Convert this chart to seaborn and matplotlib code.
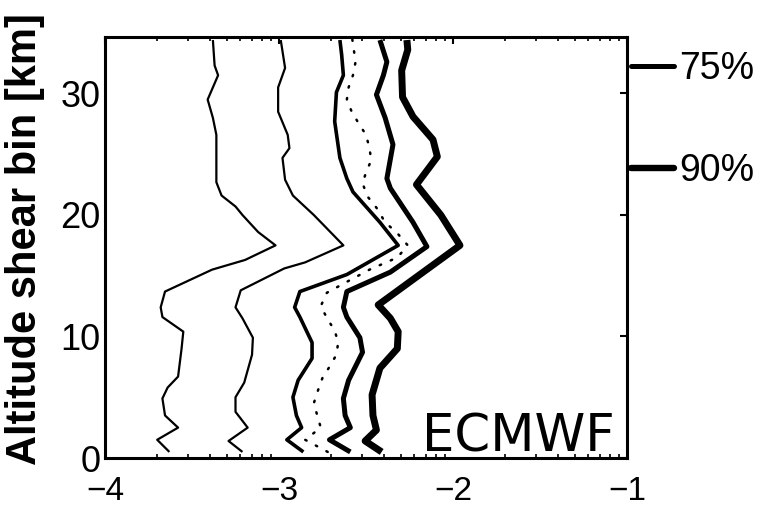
import matplotlib
matplotlib.use("Agg")
import matplotlib.pyplot as plt
import seaborn as sns
import numpy as np
import pandas as pd
from matplotlib.lines import Line2D
from matplotlib.ticker import FixedLocator

# ---- data (log10 values vs altitude bin) ----
alt1 = [0.5,1.5,2.5,3.5,4.9,5.8,6.7,9.0,10.4,11.6,12.4,13.7,15.5,16.3,17.5,18.6,20.0,20.7,21.6,22.7,26.6,28.0,29.5,31.5,32.3,34.4]
val1 = [-3.63,-3.70,-3.58,-3.655,-3.67,-3.64,-3.58,-3.56,-3.55,-3.67,-3.68,-3.655,-3.385,-3.195,-3.02,-3.12,-3.21,-3.25,-3.33,-3.36,-3.36,-3.38,-3.41,-3.35,-3.37,-3.38]

alt2 = [0.5,1.4,2.5,3.8,5.0,6.2,8.5,9.9,11.5,12.4,13.8,15.6,16.1,17.5,20.0,21.6,22.9,24.7,25.5,26.6,28.5,30.5,32.1,34.4]
val2 = [-3.21,-3.29,-3.18,-3.25,-3.25,-3.20,-3.155,-3.15,-3.21,-3.25,-3.22,-2.97,-2.85,-2.63,-2.80,-2.92,-2.965,-2.98,-2.94,-2.95,-3.005,-3.005,-2.965,-2.99]

alt3 = [0.5,1.5,2.5,3.5,5.0,6.4,8.2,9.5,11.6,12.4,13.7,15.1,17.5,19.4,21.9,23.0,24.7,27.7,30.1,31.5,33.2,34.4]
val3 = [-2.86,-2.955,-2.87,-2.90,-2.92,-2.89,-2.81,-2.81,-2.88,-2.91,-2.88,-2.61,-2.315,-2.42,-2.575,-2.61,-2.65,-2.68,-2.67,-2.63,-2.64,-2.65]

alt4 = [0.5,1.5,2.5,3.5,4.5,5.4,6.6,7.5,8.5,9.5,10.5,11.4,12.5,13.6,14.5,15.5,16.5,17.5,18.5,19.4,20.6,21.5,22.6,23.5,24.5,25.5,26.6,27.6,28.6,29.5,30.5,31.5,32.6,33.6,34.6]
val4 = [-2.72,-2.85,-2.76,-2.78,-2.80,-2.78,-2.75,-2.71,-2.67,-2.66,-2.68,-2.72,-2.76,-2.725,-2.61,-2.48,-2.32,-2.26,-2.32,-2.39,-2.44,-2.49,-2.52,-2.50,-2.47,-2.48,-2.50,-2.545,-2.585,-2.61,-2.60,-2.575,-2.56,-2.57,-2.58]

alt5 = [0.5,1.5,2.5,3.5,4.9,6.4,8.7,9.9,11.6,12.4,13.7,15.3,17.4,19.4,22.2,23.0,25.8,28.0,29.9,31.5,32.6,34.4]
val5 = [-2.59,-2.71,-2.59,-2.62,-2.63,-2.60,-2.52,-2.535,-2.61,-2.63,-2.61,-2.36,-2.15,-2.23,-2.36,-2.38,-2.345,-2.39,-2.44,-2.40,-2.38,-2.42]

alt6 = [0.5,1.4,2.3,3.5,5.2,7.4,9.0,10.4,11.5,12.6,15.0,17.5,20.0,22.5,24.8,26.2,28.1,29.7,31.9,33.6,34.4]
val6 = [-2.41,-2.505,-2.44,-2.46,-2.465,-2.42,-2.32,-2.315,-2.36,-2.43,-2.20,-1.96,-2.07,-2.21,-2.09,-2.115,-2.23,-2.29,-2.295,-2.26,-2.265]

x_ticks = [-4, -3, -2, -1]
y_ticks = [0, 10, 20, 30]
legend_labels = ["75%", "90%"]
panel_label = "ECMWF"

sns.set_style("white")
plt.rcParams["font.family"] = ["Liberation Sans", "DejaVu Sans"]
plt.rcParams["text.color"] = "black"
plt.rcParams["xtick.color"] = "black"
plt.rcParams["ytick.color"] = "black"
plt.rcParams["axes.labelcolor"] = "black"

fig = plt.figure(figsize=(7.64, 5.08), dpi=100)
ax = fig.add_axes([105/764, 50/508, 522/764, 421/508])

styles = [
    dict(lw=1.6, ls="-"),
    dict(lw=1.6, ls="-"),
    dict(lw=2.6, ls="-"),
    dict(lw=1.8, ls=(0, (0.6, 4.2))),
    dict(lw=3.6, ls="-"),
    dict(lw=5.0, ls="-"),
]
series = [(val1, alt1), (val2, alt2), (val3, alt3), (val4, alt4), (val5, alt5), (val6, alt6)]
for (xv, yv), st in zip(series, styles):
    df = pd.DataFrame({"x": xv, "y": yv})
    sns.lineplot(data=df, x="x", y="y", sort=False, estimator=None, ax=ax, color="black",
                 linewidth=st["lw"], linestyle=st["ls"], legend=False,
                 solid_joinstyle="round", solid_capstyle="butt", dash_capstyle="round")

ax.set_xlim(-4, -1)
ax.set_ylim(0, 34.65)
ax.set_xlabel("")
ax.set_ylabel("Altitude shear bin [km]", fontsize=30, fontweight="bold",
              family=["Liberation Sans", "DejaVu Sans"])
ax.yaxis.set_label_coords(-0.115, 0.52)

ax.set_xticks(x_ticks)
ax.set_xticklabels([f"\u2212{abs(t)}" for t in x_ticks])
ax.set_yticks(y_ticks)
ax.set_yticklabels([str(t) for t in y_ticks])
minor = [d + np.log10(k) for d in (-4, -3, -2) for k in range(2, 10)]
ax.xaxis.set_minor_locator(FixedLocator(minor))
ax.tick_params(axis="both", which="major", direction="in", length=5, width=1.5,
               top=True, right=True, labelsize=26)
ax.tick_params(axis="x", which="minor", direction="in", length=3, width=1.2,
               top=True, bottom=True)
ax.tick_params(axis="x", which="major", pad=13, labelsize=24)
ax.tick_params(axis="y", which="major", pad=3)
for s in ax.spines.values():
    s.set_visible(True)
    s.set_linewidth(2.2)
    s.set_color("black")

ax.text(615/764, 56/508, panel_label, transform=fig.transFigure, ha="right",
        va="baseline", fontsize=37, family=["DejaVu Sans"], color="black")

handles = [Line2D([], [], color="black", lw=3.6), Line2D([], [], color="black", lw=4.6)]
leg = ax.legend(handles, legend_labels, loc="upper left", bbox_to_anchor=(1.0, 0.975),
                frameon=False, fontsize=27, handlelength=1.15, handletextpad=0.15,
                labelspacing=1.75, borderaxespad=0.1, borderpad=0.0)

fig.savefig("out.png", dpi=100)
